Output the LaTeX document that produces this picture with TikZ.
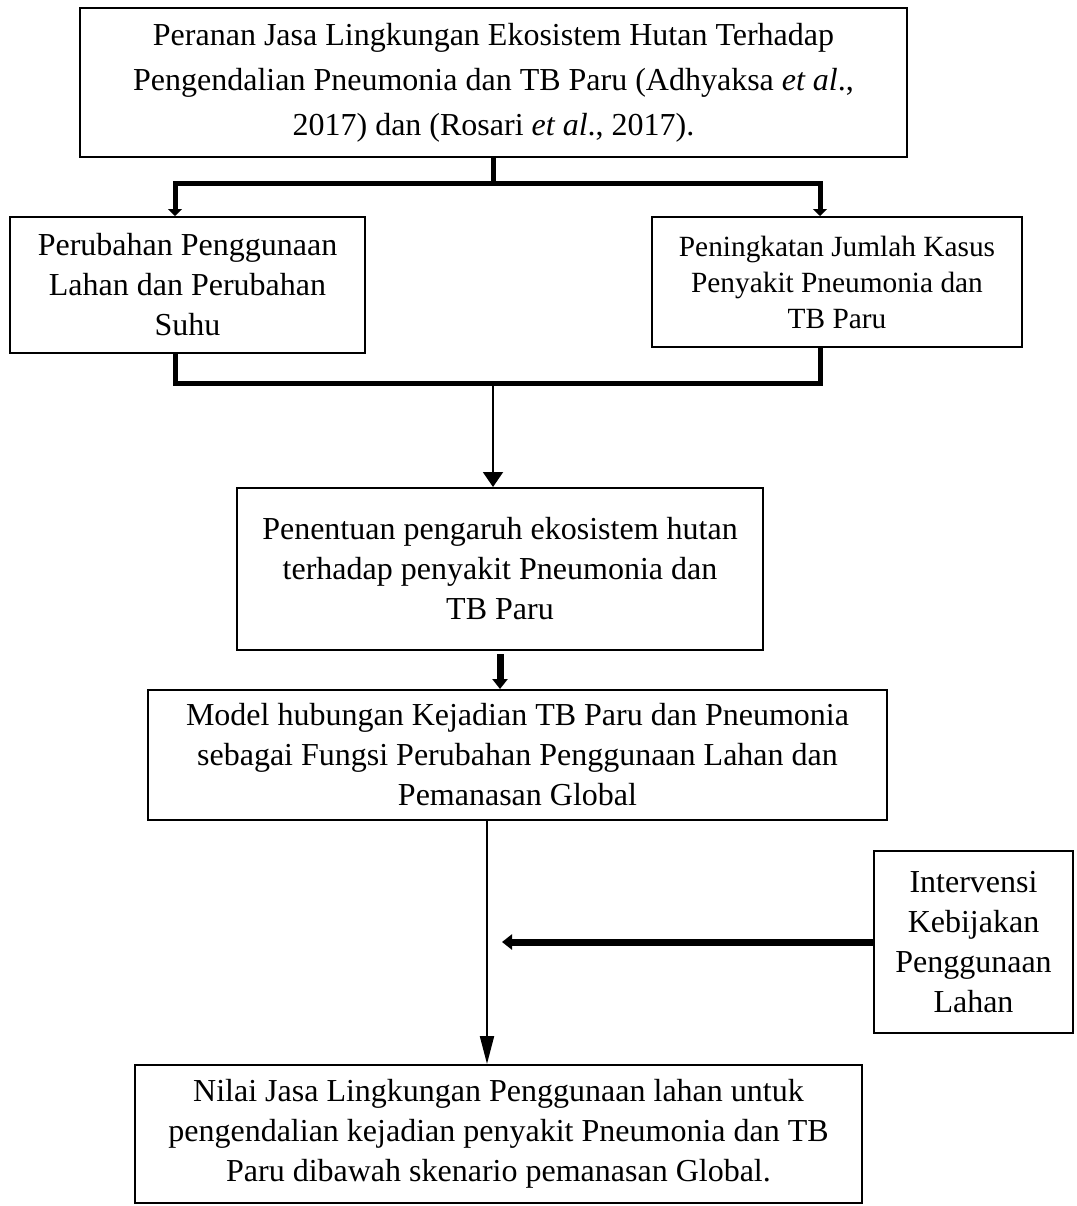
\documentclass[tikz,border=0pt]{standalone}
\usepackage{fontspec}
\setmainfont{Liberation Serif}
\usetikzlibrary{arrows.meta}

\begin{document}
\begin{tikzpicture}[x=0.5pt,y=-0.5pt,
  kotak/.style={draw,line width=1pt,align=center,inner sep=0pt,font=\fontsize{16}{20}\selectfont},
  garis/.style={line width=2.5pt},
  cabang/.style={garis,{Triangle[length=3.5pt,width=7pt]}-{Triangle[length=3.5pt,width=7pt]}},
  panahtebal/.style={line width=3.5pt,-{Triangle[length=5pt,width=7.5pt]}},
  panahtipis/.style={line width=1pt,-{Triangle[length=7.5pt,width=10pt]}},
  panahpanjang/.style={line width=1pt,-{Triangle[length=14pt,width=7pt]}}]
\useasboundingbox (0,0) rectangle (1077,1206);

\node[kotak,minimum width=413.5pt,minimum height=74.5pt,font=\fontsize{16}{22.5}\selectfont] (peranan) at (493.5,82.5)
  {Peranan Jasa Lingkungan Ekosistem Hutan Terhadap\\
   Pengendalian Pneumonia dan TB Paru (Adhyaksa \textit{et al}.,\\
   2017) dan (Rosari \textit{et al}., 2017).};
\node[kotak,minimum width=177.5pt,minimum height=68pt] (lahan) at (187.5,285)
  {Perubahan Penggunaan\\ Lahan dan Perubahan\\ Suhu};
\node[kotak,minimum width=185pt,minimum height=65pt,font=\fontsize{14.67}{18}\selectfont] (kasus) at (837,282)
  {Peningkatan Jumlah Kasus\\ Penyakit Pneumonia dan\\ TB Paru};
\node[kotak,minimum width=263pt,minimum height=81pt] (penentuan) at (500,569)
  {Penentuan pengaruh ekosistem hutan\\ terhadap penyakit Pneumonia dan\\ TB Paru};
\node[kotak,minimum width=369.5pt,minimum height=65pt] (model) at (517.5,755)
  {Model hubungan Kejadian TB Paru dan Pneumonia\\
   sebagai Fungsi Perubahan Penggunaan Lahan dan\\
   Pemanasan Global};
\node[kotak,minimum width=99.5pt,minimum height=91pt] (intervensi) at (973.5,942)
  {Intervensi\\ Kebijakan\\ Penggunaan\\ Lahan};
\node[kotak,minimum width=363.5pt,minimum height=69pt] (nilai) at (498.5,1134)
  {Nilai Jasa Lingkungan Penggunaan lahan untuk\\
   pengendalian kejadian penyakit Pneumonia dan TB\\
   Paru dibawah skenario pemanasan Global.};

% percabangan atas dan bawah
\draw[garis] (peranan.south) -- ++(0,25) coordinate (atas);
\draw[cabang] ([xshift=-6.25pt]lahan.north) |- (atas) -| ([xshift=-8.5pt]kasus.north);
\coordinate (bawah) at (493,383);
\draw[garis] ([xshift=-6.25pt]lahan.south) |- (bawah) -| ([xshift=-8.5pt]kasus.south);
\draw[panahtipis] (bawah) -- (bawah |- penentuan.north);

\draw[panahtebal,shorten <=1.5pt] (penentuan.south) -- (penentuan.south |- model.north);
\draw[panahpanjang] ([xshift=-15.25pt]model.south) coordinate (turun) -- (turun |- nilai.north);

% intervensi
\coordinate (ujung) at (502,942);
\draw[panahtebal] (intervensi.west) -- (ujung);
\end{tikzpicture}
\end{document}
